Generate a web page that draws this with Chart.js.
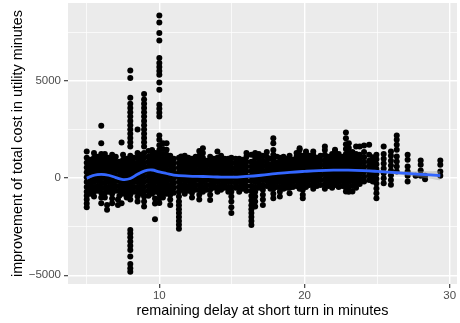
<!DOCTYPE html>
<html>
<head>
<meta charset="utf-8">
<script src="https://cdn.jsdelivr.net/npm/chart.js@4.4.1/dist/chart.umd.min.js"></script>
<style>
  html, body { margin: 0; padding: 0; background: #fff; }
  #wrap { width: 460px; height: 323px; }
</style>
</head>
<body>
<div id="wrap"><canvas id="chart" width="460" height="323"></canvas></div>
<script>
// delay columns (minutes) and the improvement values stacked on each column
const earlyX = [5.0, 5.25, 5.5, 5.75, 6.0, 6.25, 6.4, 6.5, 6.75, 7.0, 7.15, 7.25, 7.4, 7.5, 7.75, 8.0, 8.25, 8.5, 8.75, 8.95, 9.25, 9.5, 9.7, 9.75];
const earlyY = [
  [-1500, -1300, -1100, -900, -700, -450, -200, 50, 300, 550, 800, 1050, 1370],
  [-800, -550, -300, -50, 200, 450, 700, 950],
  [-950, -700, -450, -200, 50, 300, 550, 800, 1050, 1300],
  [-650, -400, -150, 100, 350, 600, 850, 1100],
  [-1290, -1000, -750, -500, -250, 0, 250, 500, 750, 1000, 1250, 1800, 2700],
  [-1000, -750, -500, -250, 0, 250, 500, 750, 1000, 1250],
  [-1630, -1380],
  [-700, -450, -200, 50, 300, 550, 800, 1050],
  [-1290, -1050, -800, -550, -300, -50, 200, 450, 700, 950, 1200],
  [-650, -400, -150, 100, 350, 600, 850, 1100],
  [-1380, -1100],
  [-900, -650, -400, -150, 100, 350, 600, 850],
  [-1290, 1835],
  [-800, -550, -300, -50, 200, 450, 700, 950, 1200],
  [-1000, -750, -500, -250, 0, 250, 500, 750, 1000],
  [-4815, -4640, -4420, -4040, -3700, -3480, -3260, -3040, -2850, -2665, -1100, -850, -600, -350, -100, 150, 400, 650, 900, 1150,
   1630, 1850, 2070, 2290, 2510, 2730, 2950, 3170, 3390, 3610, 3830, 4140, 5155, 5547],
  [-700, -450, -200, 50, 300, 550, 800, 1050],
  [-1200, -950, -700, -450, -200, 50, 300, 550, 800, 1050, 1300, 2500],
  [-800, -550, -300, -50, 200, 450, 700, 950, 1200],
  [-1460, -1200, -950, -700, -450, -200, 50, 300, 550, 800, 1050, 1300, 1630, 1850, 2070, 2290, 2510, 2730, 2950, 3170, 3390, 3610, 3830, 4050, 4330],
  [-900, -650, -400, -150, 100, 350, 600, 850, 1100, 1400],
  [-800, -550, -300, -50, 200, 450, 700, 950, 1200, 1450],
  [-2115, -1300, -1050],
  [-700, -450, -200, 50, 300, 550, 800, 1050, 1300]
];

const midX = [10.0, 10.25, 10.5, 10.75, 11.0, 11.35, 11.5, 11.75, 12.0, 12.25, 12.5, 12.75, 13.0, 13.25, 13.5, 13.75, 14.0, 14.25, 14.5, 14.75, 14.96, 15.25, 15.5, 15.75, 16.0, 16.34, 16.6, 16.85, 17.13, 17.4];
const midY = [
  [-1280, -1050, -800, -550, -300, -50, 200, 450, 700, 950, 1200, 1450, 1700, 1975, 2200, 3175, 3370, 3575, 3780, 4550, 4930, 5325, 5520, 5720, 5930, 6185, 7095, 7475, 8020, 8380],
  [-1000, -750, -500, -250, 0, 250, 500, 750, 1000, 1250, 1500, 1800],
  [-800, -550, -300, -50, 200, 450, 700, 950, 1200, 1460, 1800],
  [-1380, -1100, -850, -600, -350, -100, 150, 400, 650, 900, 1150],
  [-750, -500, -250, 0, 250, 500, 750, 1000],
  [-2600, -2400, -2200, -2000, -1800, -1600, -1400, -1200, -950, -700, -450, -200, 50, 300, 550, 800, 1050],
  [-600, -350, -100, 150, 400, 650, 900, 1115],
  [-800, -550, -300, -50, 200, 450, 700, 950, 1150],
  [-650, -400, -150, 100, 350, 600, 850, 1050],
  [-1000, -750, -500, -250, 0, 250, 500, 750, 1000],
  [-600, -350, -100, 150, 400, 650, 900, 1100],
  [-1100, -850, -600, -350, -100, 150, 400, 650, 900, 1150, 1400],
  [-700, -450, -200, 50, 300, 550, 800, 1050, 1300, 1545],
  [-600, -350, -100, 150, 400, 650, 900],
  [-1120, -850, -600, -350, -100, 150, 400, 650, 900, 1100],
  [-500, -250, 0, 250, 500, 750, 1000],
  [-700, -450, -200, 50, 300, 550, 800, 1050, 1375],
  [-600, -350, -100, 150, 400, 650, 900, 1150],
  [-500, -250, 0, 250, 500, 750, 1000],
  [-700, -450, -200, 50, 300, 550, 800, 1000],
  [-1790, -1500, -1200, -950, -700, -450, -200, 50, 300, 550, 800, 1050],
  [-500, -250, 0, 250, 500, 750, 1000],
  [-700, -450, -200, 50, 300, 550, 800, 1000],
  [-550, -300, -50, 200, 450, 700, 950],
  [-650, -400, -150, 100, 350, 600, 850, 1100, 1300],
  [-2410, -2200, -2000, -1800, -1600, -1400, -1150, -900, -650, -400, -150, 100, 350, 600, 850, 1200],
  [-1460, -1200, -950, -700, -450, -200, 50, 300, 550, 800, 1050, 1300],
  [-500, -250, 0, 250, 500, 750, 1000, 1250],
  [-1376, -1100, -850, -600, -350, -100, 150, 400, 650, 900, 1150],
  [-400, -150, 100, 350, 600, 850, 1100, 1350]
];

const lateX = [17.65, 17.85, 18.1, 18.3, 18.55, 18.8, 18.97, 19.2, 19.45, 19.66, 19.88, 20.1, 20.35, 20.6, 20.85, 21.1, 21.4, 21.65, 21.9, 22.1, 22.35, 22.6, 22.85, 23.05, 23.3, 23.55, 23.8];
const lateY = [
  [-550, -300, -50, 200, 450, 700, 1000],
  [-1030, -800, -550, -300, -50, 200, 450, 700, 950, 1200, 1450, 1800, 2060],
  [-450, -200, 50, 300, 550, 800, 1100],
  [-950, -700, -450, -200, 50, 300, 550, 800, 1050],
  [-550, -300, -50, 200, 450, 700, 950, 1100],
  [-500, -250, 0, 250, 500, 750, 1000],
  [-775, -500, -250, 0, 250, 500, 750, 1000, 1150],
  [-450, -200, 50, 300, 550, 800, 950],
  [-400, -150, 100, 350, 600, 850, 1100, 1300],
  [-550, -300, -50, 200, 450, 700, 950, 1200, 1460, 1545],
  [-1030, -860, -600, -350, -100, 150, 400, 650, 900, 1150],
  [-450, -200, 50, 300, 550, 800, 1050, 1250, 1370],
  [-350, -100, 150, 400, 650, 900, 1150],
  [-550, -300, -50, 200, 450, 700, 950, 1200, 1370],
  [-400, -150, 100, 350, 600, 850, 1050],
  [-350, -100, 150, 400, 650, 900, 1150],
  [-550, -300, -50, 200, 450, 700, 950, 1200, 1450, 1630],
  [-400, -150, 100, 350, 600, 850, 1100],
  [-500, -250, 0, 250, 500, 750, 1000, 1250],
  [-350, -100, 150, 400, 650, 900, 1150, 1370, 1460],
  [-450, -200, 50, 300, 550, 800, 1050, 1250],
  [-400, -150, 100, 350, 600, 850, 1100],
  [-690, -500, -250, 0, 250, 500, 750, 1000, 1250, 1500, 1750, 2060, 2350],
  [-700, -450, -200, 50, 300, 550, 800, 1050, 1300, 1550, 1800],
  [-690, -400, -150, 100, 350, 600, 850, 1100, 1350],
  [-500, -250, 0, 250, 500, 750, 1000, 1250, 1630],
  [-300, -50, 200, 450, 700, 950, 1200, 1630]
];

const tailX = [24.1, 24.45, 24.7, 24.95, 25.45, 25.95, 26.35, 27.1, 27.65, 28.0, 28.3, 29.35];
const tailY = [
  [-175, 75, 325, 575, 825, 1075, 1350, 1680],
  [-100, 150, 400, 650, 900, 1200, 1717],
  [-175, 75, 325, 575, 825, 1075],
  [-1030, -780, -530, -280, -30, 220, 470, 720, 970, 1200],
  [-258, 0, 250, 500, 750, 1000, 1250, 1630],
  [-345, -100, 150, 400, 650, 900, 1150, 1370],
  [340, 600, 855, 1115, 1460, 1717, 1975, 2200],
  [-175, 118, 340, 600, 943, 1200],
  [118],
  [118, 400, 686, 907],
  [-60, 118],
  [118, 340, 686, 907]
];

// loess fit, with the half width of its grey band
const smoothX = [5, 5.5, 6, 6.5, 7, 7.5, 8, 8.5, 9, 9.5, 10, 10.5, 11, 12, 13, 14, 15, 16, 17, 18, 19, 20, 21, 22, 23, 24, 25, 26, 27, 28, 29.35];
const smoothY = [0, 150, 200, 150, 30, -70, -20, 200, 380, 420, 320, 240, 160, 110, 85, 60, 50, 90, 150, 230, 300, 350, 390, 410, 410, 390, 350, 300, 250, 200, 130];
const bandHalf = [90, 60, 50, 45, 40, 40, 40, 40, 40, 40, 40, 40, 35, 30, 30, 30, 30, 30, 30, 30, 30, 30, 35, 40, 45, 50, 60, 80, 110, 150, 240];

const xTicks = [5, 10, 15, 20, 25, 30];
const xLabelTicks = [10, 20, 30];
const yTicks = [-5000, -2500, 0, 2500, 5000, 7500];
const yLabelTicks = [-5000, 0, 5000];

const FONT = '"Liberation Sans", Arial, Helvetica, sans-serif';

function columnsToPoints(xs, ys) {
  const pts = [];
  xs.forEach((x, i) => ys[i].forEach(y => pts.push({ x: x, y: y })));
  return pts;
}

const scatterPts = [
  ...columnsToPoints(earlyX, earlyY),
  ...columnsToPoints(midX, midY),
  ...columnsToPoints(lateX, lateY),
  ...columnsToPoints(tailX, tailY)
];
const smoothPts = smoothX.map((x, i) => ({ x: x, y: smoothY[i] }));
const bandLow = smoothX.map((x, i) => ({ x: x, y: smoothY[i] - bandHalf[i] }));
const bandHigh = smoothX.map((x, i) => ({ x: x, y: smoothY[i] + bandHalf[i] }));

const panelBg = {
  id: 'panelBg',
  beforeDraw(chart) {
    const { ctx, chartArea: a } = chart;
    ctx.save();
    ctx.fillStyle = '#EBEBEB';
    ctx.fillRect(a.left, a.top, a.right - a.left, a.bottom - a.top);
    ctx.restore();
  }
};

new Chart(document.getElementById('chart'), {
  type: 'scatter',
  data: {
    datasets: [
      { data: scatterPts, order: 4, pointRadius: 3, pointBackgroundColor: '#000000', pointBorderWidth: 0, pointHoverRadius: 3 },
      { type: 'line', data: bandLow, order: 3, pointRadius: 0, borderWidth: 0, tension: 0.4, fill: false },
      { type: 'line', data: bandHigh, order: 2, pointRadius: 0, borderWidth: 0, tension: 0.4, fill: '-1', backgroundColor: 'rgba(153,153,153,0.4)' },
      { type: 'line', data: smoothPts, order: 1, pointRadius: 0, borderColor: '#3366FF', borderWidth: 2.8, tension: 0.4, fill: false }
    ]
  },
  options: {
    responsive: false,
    animation: false,
    devicePixelRatio: 1,
    events: [],
    layout: { padding: { left: 0, right: 2, top: 3, bottom: 0 } },
    plugins: { legend: { display: false }, tooltip: { enabled: false } },
    scales: {
      x: {
        type: 'linear',
        min: 3.71,
        max: 30.5,
        afterBuildTicks: axis => { axis.ticks = xTicks.map(v => ({ value: v })); },
        afterFit: axis => { axis.height = 39; axis.paddingLeft = 0; axis.paddingRight = 0; },
        border: { display: false },
        grid: {
          color: '#FFFFFF',
          lineWidth: c => (xLabelTicks.includes(c.tick.value) ? 1.4 : 0.7),
          tickColor: c => (xLabelTicks.includes(c.tick.value) ? '#333333' : 'rgba(0,0,0,0)'),
          tickLength: 4,
          tickWidth: 1.1
        },
        ticks: {
          color: '#4D4D4D',
          font: { family: FONT, size: 11.5 },
          padding: 1,
          maxRotation: 0,
          autoSkip: false,
          callback: v => (xLabelTicks.includes(v) ? String(v) : '')
        },
        title: {
          display: true,
          text: 'remaining delay at short turn in minutes',
          color: '#000000',
          font: { family: FONT, size: 14.4 },
          padding: { top: 0, bottom: 3 }
        }
      },
      y: {
        type: 'linear',
        min: -5450,
        max: 9020,
        afterBuildTicks: axis => { axis.ticks = yTicks.map(v => ({ value: v })); },
        afterFit: axis => { axis.width = 68; axis.paddingTop = 0; axis.paddingBottom = 0; },
        border: { display: false },
        grid: {
          color: '#FFFFFF',
          lineWidth: c => (yLabelTicks.includes(c.tick.value) ? 1.4 : 0.7),
          tickColor: c => (yLabelTicks.includes(c.tick.value) ? '#333333' : 'rgba(0,0,0,0)'),
          tickLength: 4,
          tickWidth: 1.1
        },
        ticks: {
          color: '#4D4D4D',
          font: { family: FONT, size: 11.5 },
          padding: 3,
          autoSkip: false,
          callback: v => (yLabelTicks.includes(v) ? (v < 0 ? '\u2212' + Math.abs(v) : String(v)) : '')
        },
        title: {
          display: true,
          text: 'improvement of total cost in utility minutes',
          color: '#000000',
          font: { family: FONT, size: 14.4 },
          padding: { top: 9, bottom: 0 }
        }
      }
    }
  },
  plugins: [panelBg]
});
</script>
</body>
</html>
